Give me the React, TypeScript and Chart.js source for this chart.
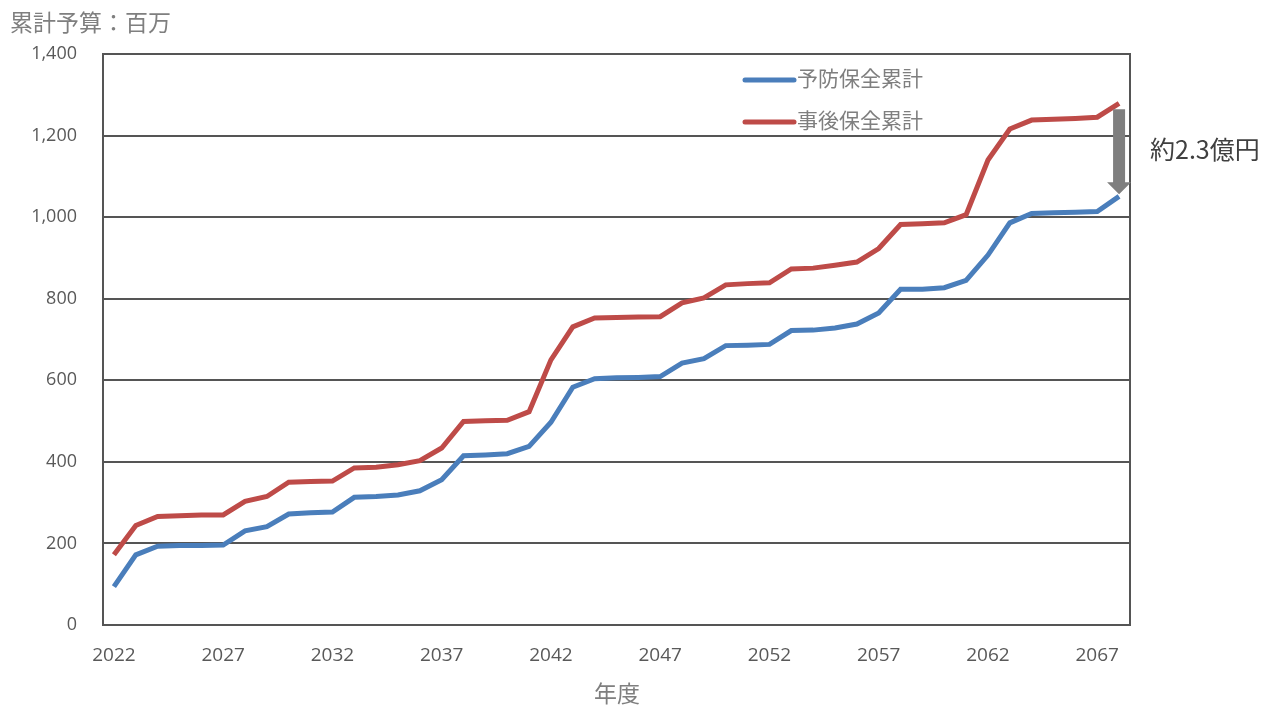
import React, { useEffect, useRef } from "react";
import { Chart, registerables } from "chart.js";

Chart.register(...registerables);

const years: string[] = [];
for (let y = 2022; y <= 2068; y++) years.push(String(y));

const preventive = [
  94, 172, 193, 195, 195, 196, 231, 241, 272, 275, 277, 313, 315, 319, 329, 356,
  415, 417, 420, 438, 497, 583, 604, 606, 607, 609, 642, 653, 685, 686, 688, 722,
  723, 728, 738, 765, 823, 823, 827, 845, 907, 986, 1009, 1011, 1012, 1014, 1051,
];
const corrective = [
  172, 244, 266, 268, 270, 270, 303, 315, 350, 352, 353, 385, 387, 393, 403, 434,
  499, 501, 502, 523, 650, 731, 753, 754, 755, 756, 790, 802, 834, 837, 839, 873,
  875, 882, 890, 923, 982, 984, 986, 1006, 1140, 1216, 1238, 1240, 1242, 1245, 1279,
];
const yTicks = [0, 200, 400, 600, 800, 1000, 1200, 1400];

const seriesNames = ["予防保全累計", "事後保全累計"];
const seriesColors = ["#4A7EBB", "#BE4B48"];
const yTitle = "累計予算：百万";
const xTitle = "年度";
const diffLabel = "約2.3億円";

const JP = '"Noto Sans CJK JP", "Noto Sans", sans-serif';
const NUM = '"Open Sans", "Noto Sans", sans-serif';

const overlay = {
  id: "overlay",
  afterDraw(chart: any) {
    const { ctx, chartArea: a, scales } = chart;
    ctx.save();
    // frame
    ctx.strokeStyle = "#555";
    ctx.lineWidth = 2;
    ctx.strokeRect(a.left, a.top, a.right - a.left, a.bottom - a.top);

    // titles
    ctx.fillStyle = "#7F7F7F";
    ctx.font = `23px ${JP}`;
    ctx.textBaseline = "middle";
    ctx.textAlign = "left";
    ctx.fillText(yTitle, 10, 22);
    ctx.textAlign = "center";
    ctx.fillText(xTitle, 617, 693);

    // legend
    const legY = [80, 122];
    ctx.lineCap = "round";
    for (let i = 0; i < 2; i++) {
      ctx.strokeStyle = seriesColors[i];
      ctx.lineWidth = 5;
      ctx.beginPath();
      ctx.moveTo(745, legY[i]);
      ctx.lineTo(794, legY[i]);
      ctx.stroke();
      ctx.fillStyle = "#7F7F7F";
      ctx.font = `21px ${JP}`;
      ctx.textAlign = "left";
      ctx.fillText(seriesNames[i], 797, legY[i] - 2);
    }

    // difference arrow
    const xs = scales.x;
    const ys = scales.y;
    const last = years.length - 1;
    const ax = xs.getPixelForValue(last);
    const yTop = ys.getPixelForValue(corrective[last]) + 6;
    const yBot = ys.getPixelForValue(preventive[last]) - 2;
    ctx.fillStyle = "#7F7F7F";
    ctx.beginPath();
    ctx.moveTo(ax - 6, yTop);
    ctx.lineTo(ax + 6, yTop);
    ctx.lineTo(ax + 6, yBot - 12);
    ctx.lineTo(ax + 12, yBot - 12);
    ctx.lineTo(ax, yBot);
    ctx.lineTo(ax - 12, yBot - 12);
    ctx.lineTo(ax - 6, yBot - 12);
    ctx.closePath();
    ctx.fill();

    ctx.fillStyle = "#404040";
    ctx.font = `25px ${JP}`;
    ctx.textAlign = "left";
    ctx.fillText(diffLabel, 1150, 149);
    ctx.restore();
  },
};

export default function App() {
  const ref = useRef<HTMLCanvasElement | null>(null);
  useEffect(() => {
    if (!ref.current) return;
    const chart = new Chart(ref.current, {
      type: "line",
      data: {
        labels: years,
        datasets: [
          {
            label: seriesNames[0],
            data: preventive,
            borderColor: seriesColors[0],
            backgroundColor: seriesColors[0],
            borderWidth: 5,
            pointRadius: 0,
            tension: 0,
          },
          {
            label: seriesNames[1],
            data: corrective,
            borderColor: seriesColors[1],
            backgroundColor: seriesColors[1],
            borderWidth: 5,
            pointRadius: 0,
            tension: 0,
          },
        ],
      },
      options: {
        animation: false,
        responsive: false,
        maintainAspectRatio: false,
        layout: { padding: { left: 0, top: 54, right: 139, bottom: 0 } },
        plugins: { legend: { display: false }, tooltip: { enabled: false } },
        scales: {
          x: {
            offset: true,
            grid: { display: false, drawTicks: false },
            border: { display: true, color: "#555", width: 2 },
            afterFit: (s: any) => {
              s.height = 82;
            },
            ticks: {
              autoSkip: false,
              maxRotation: 0,
              padding: 19,
              color: "#595959",
              font: { family: NUM, size: 19 },
              callback: (_v: any, i: number) => (i % 5 === 0 ? years[i] : ""),
            },
          },
          y: {
            min: 0,
            max: 1400,
            afterFit: (s: any) => {
              s.width = 103;
            },
            afterBuildTicks: (s: any) => {
              s.ticks = yTicks.map((v) => ({ value: v }));
            },
            grid: { color: "#555", lineWidth: 2, drawTicks: false },
            border: { display: true, color: "#555", width: 2 },
            ticks: {
              padding: 26,
              color: "#595959",
              font: { family: NUM, size: 18 },
              callback: (v: any) => Number(v).toLocaleString("en-US"),
            },
          },
        },
      },
      plugins: [overlay],
    });
    return () => chart.destroy();
  }, []);
  return (
    <div style={{ position: "fixed", left: 0, top: 0, width: 1269, height: 707, background: "#fff" }}>
      <canvas ref={ref} width={1269} height={707} style={{ width: 1269, height: 707 }} />
    </div>
  );
}
